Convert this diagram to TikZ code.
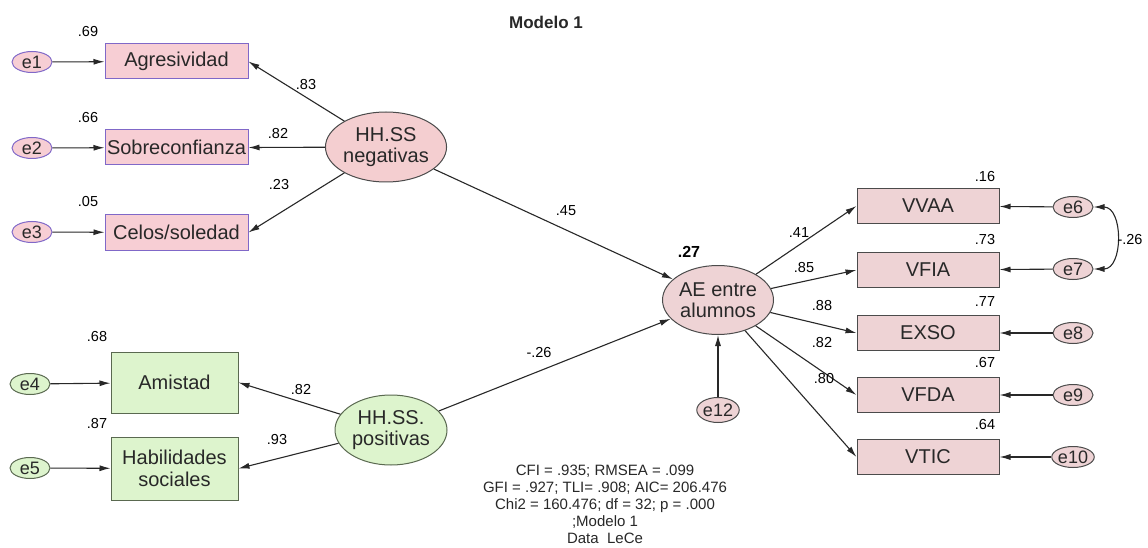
\documentclass[tikz,border=0pt]{standalone}
\usepackage{fontspec}
\setmainfont{Liberation Sans}
\usetikzlibrary{arrows.meta,shapes.geometric}
\definecolor{pinkA}{RGB}{247,206,212}
\definecolor{purpA}{RGB}{128,104,200}
\definecolor{pinkB}{RGB}{238,211,213}
\definecolor{pinkC}{RGB}{244,206,208}
\definecolor{greenA}{RGB}{221,244,205}
\definecolor{greenB}{RGB}{90,105,80}
\definecolor{edgeG}{RGB}{75,75,75}
\definecolor{lineG}{RGB}{40,40,40}
\definecolor{txtG}{RGB}{40,40,40}
\tikzset{
  obsbox/.style={rectangle, draw, line width=1pt, inner sep=0pt, align=center, text=txtG, font=\fontsize{20}{22}\selectfont},
  latvar/.style={ellipse, draw, line width=1pt, inner sep=0pt, minimum width=112pt, minimum height=70pt, align=center, text=txtG, font=\fontsize{20}{21.5}\selectfont},
  errvar/.style={ellipse, draw, line width=1pt, inner sep=0pt, minimum width=40pt, minimum height=21pt, text=txtG, font=\fontsize{18}{19}\selectfont},
  num/.style={text=black, font=\fontsize{14.5}{16}\selectfont, inner sep=0pt},
  path/.style={draw=lineG, line width=1.1pt, -{Latex[length=11pt,width=6pt]}},
  covpath/.style={draw=lineG, line width=1.1pt, {Latex[length=11pt,width=6pt]}-{Latex[length=11pt,width=6pt]}},
}
\begin{document}
\begin{tikzpicture}[x=1pt,y=-1pt]
\fill[white] (0,0) rectangle (1148,548);
\useasboundingbox (0,0) rectangle (1148,548);

\node[font=\bfseries\fontsize{17}{19}\selectfont, text=txtG, inner sep=0pt] (title) at (546,22) {Modelo 1};

% top-left block
\node[obsbox, fill=pinkA, draw=purpA, minimum width=143pt, minimum height=35pt] (agr) at (176.5,61.5) {Agresividad};
\node[obsbox, fill=pinkA, draw=purpA, minimum width=143pt, minimum height=35pt] (sob) at (176.5,147.5) {Sobreconfianza};
\node[obsbox, fill=pinkA, draw=purpA, minimum width=143pt, minimum height=35pt] (cel) at (176.5,232.5) {Celos/soledad};
\node[errvar, fill=pinkA, draw=purpA] (e1) at (32,62) {e1};
\node[errvar, fill=pinkA, draw=purpA] (e2) at (32,148) {e2};
\node[errvar, fill=pinkA, draw=purpA] (e3) at (32,232) {e3};
\node[num] (r1) at (88,32) {.69};
\node[num] (r2) at (88,118) {.66};
\node[num] (r3) at (88,202) {.05};
\node[latvar, fill=pinkC, draw=edgeG] (neg) at (386,147) {HH.SS\\negativas};

% bottom-left block
\node[obsbox, fill=greenA, draw=greenB, minimum width=127pt, minimum height=61pt] (ami) at (174.5,382.5) {Amistad};
\node[obsbox, fill=greenA, draw=greenB, minimum width=127pt, minimum height=63pt] (hab) at (174.5,468.5) {Habilidades\\sociales};
\node[errvar, fill=greenA, draw=greenB] (e4) at (30,384) {e4};
\node[errvar, fill=greenA, draw=greenB] (e5) at (30,468) {e5};
\node[num] (r4) at (97,337) {.68};
\node[num] (r5) at (97,424) {.87};
\node[latvar, fill=greenA, draw=greenB] (pos) at (391,430) {HH.SS.\\positivas};

% central
\node[latvar, fill=pinkB, draw=edgeG, minimum width=111pt, minimum height=69pt] (ae) at (718,300) {AE entre\\alumnos};
\node[font=\bfseries\fontsize{16}{18}\selectfont, inner sep=0pt] (r27) at (689,252) {.27};
\node[errvar, fill=pinkB, draw=edgeG, minimum width=41pt, minimum height=25pt] (e12) at (718,410) {e12};

% right block
\foreach \n/\t/\y in {v1/VVAA/206, v2/VFIA/270, v3/EXSO/333, v4/VFDA/395, v5/VTIC/457}{
  \node[obsbox, fill=pinkB, draw=edgeG, minimum width=142pt, minimum height=35pt] (\n) at (928,\y) {\t};
}
\node[errvar, fill=pinkB, draw=edgeG] (e6) at (1073,207) {e6};
\node[errvar, fill=pinkB, draw=edgeG] (e7) at (1073,269) {e7};
\node[errvar, fill=pinkB, draw=edgeG] (e8) at (1073,333) {e8};
\node[errvar, fill=pinkB, draw=edgeG] (e9) at (1073,395) {e9};
\node[errvar, fill=pinkB, draw=edgeG] (e10) at (1073,457) {e10};
\node[num] (r6) at (985,177) {.16};
\node[num] (r7) at (985,240) {.73};
\node[num] (r8) at (985,302) {.77};
\node[num] (r9) at (985,363) {.67};
\node[num] (r10) at (985,425) {.64};

% paths left
\draw[path] (e1) -- (agr);
\draw[path] (e2) -- (sob);
\draw[path] (e3) -- (cel);
\draw[path] (neg) -- (agr.east);
\draw[path] (neg) -- (sob.east);
\draw[path] (neg) -- (cel.east);
\node[num] (l83) at (306,85) {.83};
\node[num] (l82a) at (278,134) {.82};
\node[num] (l23) at (279,185) {.23};

\draw[path] (e4) -- (ami);
\draw[path] (e5) -- (hab);
\draw[path] (pos) -- (ami.east);
\draw[path] (pos) -- (hab.east);
\node[num] (l82b) at (301,390) {.82};
\node[num] (l93) at (277,440) {.93};

% structural
\draw[path] (neg) -- (ae);
\draw[path] (pos) -- (ae);
\node[num] (l45) at (566,211) {.45};
\node[num] (lm26) at (539,353) {-.26};
\draw[path] (e12) -- (ae);

% right paths
\draw[path] (ae) -- (v1.west);
\draw[path] (ae) -- (v2.west);
\draw[path] (ae) -- (v3.west);
\draw[path] (ae) -- (v4.west);
\draw[path] (ae) -- (v5.west);
\node[num] (l41) at (799,233) {.41};
\node[num] (l85) at (804,268) {.85};
\node[num] (l88) at (822,306) {.88};
\node[num] (l82c) at (822,343) {.82};
\node[num] (l80) at (824,379) {.80};

\draw[path] (e6) -- (v1);
\draw[path] (e7) -- (v2);
\draw[path] (e8) -- (v3);
\draw[path] (e9) -- (v4);
\draw[path] (e10) -- (v5);
\draw[covpath] (e6.east) .. controls +(30,0) and +(30,0) .. (e7.east);
\node[num] (lcov) at (1130,240) {-.26};

% fit statistics
\node[align=center, font=\fontsize{15}{17}\selectfont, text=txtG, inner sep=0pt] (stats) at (605,504) {CFI = .935; RMSEA = .099\\GFI = .927; TLI= .908; AIC= 206.476\\Chi2 = 160.476; df = 32; p = .000\\;Modelo 1\\Data\ \ LeCe};
\end{tikzpicture}
\end{document}
